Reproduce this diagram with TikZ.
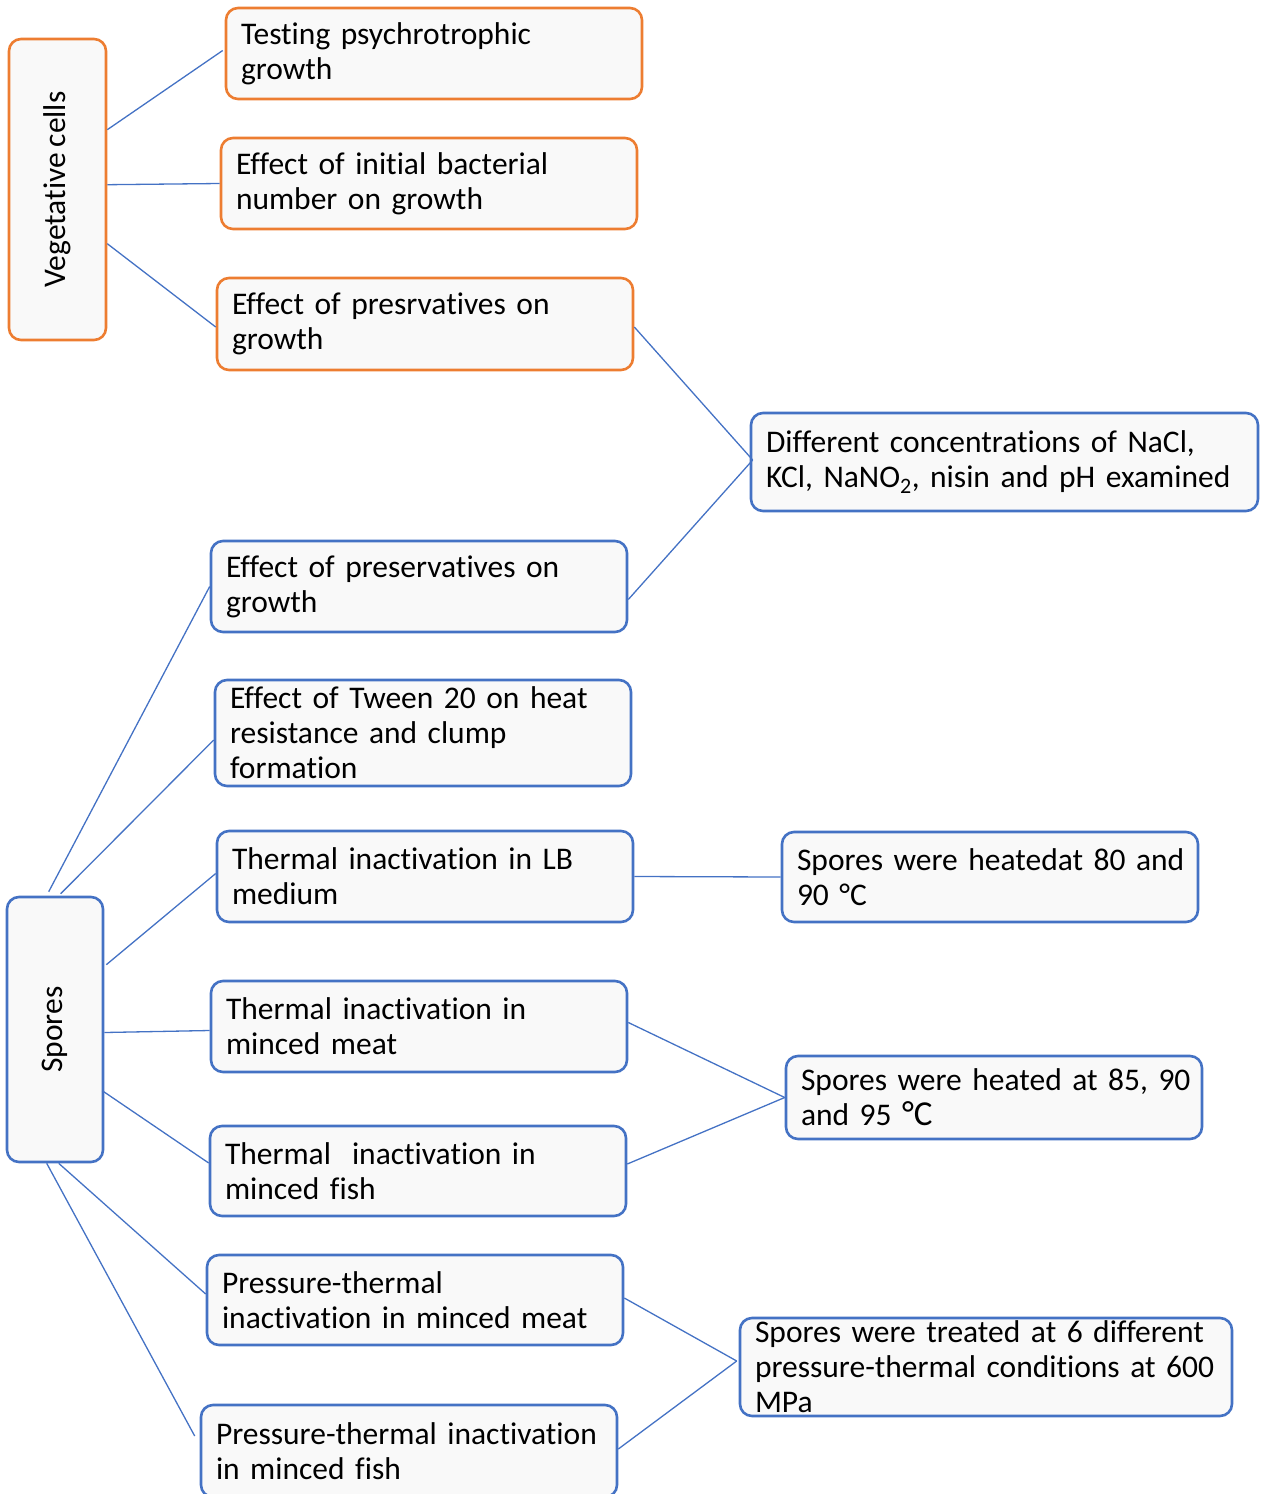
\documentclass[tikz,border=0pt]{standalone}
\usepackage{fontspec}
\setmainfont{Carlito}[Ligatures=CommonOff]
\definecolor{orng}{HTML}{ED7D31}
\definecolor{blu}{HTML}{4472C4}
\definecolor{fillg}{HTML}{F9F9F9}
\newcommand\myboxfont{\fontsize{31.5}{35}\selectfont\fontdimen2\font=5.8pt\relax}
\tikzset{
  base/.style={rectangle, rounded corners=12pt, line width=2.6pt, fill=fillg,
    inner xsep=15pt, inner ysep=0pt, align=left, anchor=center,
    font=\myboxfont},
  obox/.style={base, draw=orng},
  bbox/.style={base, draw=blu},
  conn/.style={draw=blu, line width=1.3pt},
}
\begin{document}
\begin{tikzpicture}[x=1pt,y=-1pt]
\useasboundingbox (0,0) rectangle (1263,1494);
% vegetative cells branch
\node[obox, minimum width=97pt, minimum height=301pt, align=center, inner xsep=0pt] (Veg) at (57.5,189.5) {\rotatebox{90}{Vegetative cells}};
\node[obox, text width=386pt, minimum height=91pt] (T1) at (434,53.5) {Testing psychrotrophic\\growth};
\node[obox, text width=386pt, minimum height=91pt] (T2) at (429,183.5) {Effect of initial bacterial\\number on growth};
\node[obox, text width=386pt, minimum height=92pt] (T3) at (425,324) {Effect of presrvatives on\\growth};
\node[bbox, text width=477pt, minimum height=98pt] (D) at (1004.5,462) {Different concentrations of NaCl,\\KCl, NaNO\textsubscript{2}, nisin and pH examined};
% spores branch
\node[bbox, minimum width=96pt, minimum height=265pt, align=center, inner xsep=0pt] (Sp) at (55,1029.5) {\rotatebox{90}{Spores}};
\node[bbox, text width=386pt, minimum height=91pt] (S1) at (419,586.5) {Effect of preservatives on\\growth};
\node[bbox, text width=386pt, minimum height=106pt] (S2) at (423,733) {Effect of Tween 20 on heat\\resistance and clump\\formation};
\node[bbox, text width=386pt, minimum height=91pt] (S3) at (425,876.5) {Thermal inactivation in LB\\medium};
\node[bbox, text width=386pt, minimum height=90pt] (R1) at (990,877) {\mbox{Spores were heatedat 80 and}\\90 °C};
\node[bbox, text width=386pt, minimum height=91pt] (S4) at (419,1026.5) {Thermal inactivation in\\minced meat};
\node[bbox, text width=386pt, minimum height=90pt] (S5) at (418,1171) {Thermal\ \ inactivation in\\minced fish};
\node[bbox, text width=386pt, minimum height=83pt] (R2) at (994,1097.5) {\mbox{Spores were heated at 85, 90}\\and 95 {\fontsize{35}{35}\selectfont °C}};
\node[bbox, text width=386pt, minimum height=90pt] (S6) at (415,1300) {Pressure-thermal\\inactivation in minced meat};
\node[bbox, text width=386pt, minimum height=92pt] (S7) at (409,1451) {\mbox{Pressure-thermal inactivation}\\in minced fish};
\node[bbox, text width=462pt, minimum height=98pt] (R3) at (986,1367) {\mbox{Spores were treated at 6 different}\\\mbox{pressure-thermal conditions at 600}\\MPa};
% connectors
\draw[conn] ([shift={(0,92)}]Veg.north east) -- ([shift={(-2,-3)}]T1.west);
\draw[conn] ([shift={(0,147)}]Veg.north east) -- (T2.west);
\draw[conn] ([shift={(0,206)}]Veg.north east) -- ([shift={(0,3)}]T3.west);
\draw[conn] ([shift={(0,3)}]T3.east) -- ([shift={(3,-2)}]D.west);
\draw[conn] ([shift={(0,13)}]S1.east) -- ([shift={(3,-2)}]D.west);
\draw[conn] ([shift={(43,-4)}]Sp.north west) -- (S1.west);
\draw[conn] ([shift={(55,-2)}]Sp.north west) -- ([shift={(0,7)}]S2.west);
\draw[conn] ([shift={(2,69)}]Sp.north east) -- ([shift={(0,-3)}]S3.west);
\draw[conn] ([shift={(0,3)}]Sp.east) -- ([shift={(0,4)}]S4.west);
\draw[conn] ([shift={(-2,195)}]Sp.north east) -- ([shift={(0,-8)}]S5.west);
\draw[conn] ([shift={(53,0)}]Sp.south west) -- ([shift={(0,-6)}]S6.west);
\draw[conn] ([shift={(41,0)}]Sp.south west) -- ([shift={(-5,-15)}]S7.west);
\draw[conn] (S3.east) -- (R1.west);
\draw[conn] ([shift={(0,-4)}]S4.east) -- (R2.west);
\draw[conn] ([shift={(0,-7)}]S5.east) -- (R2.west);
\draw[conn] ([shift={(0,-2)}]S6.east) -- ([shift={(-2,-6)}]R3.west);
\draw[conn] ([shift={(0,-2)}]S7.east) -- ([shift={(-2,-6)}]R3.west);
\end{tikzpicture}
\end{document}
